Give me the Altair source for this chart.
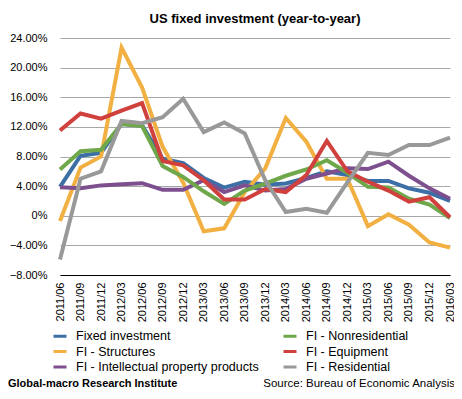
import altair as alt
import pandas as pd

quarters = ["2011/06", "2011/09", "2011/12", "2012/03", "2012/06", "2012/09", "2012/12",
            "2013/03", "2013/06", "2013/09", "2013/12", "2014/03", "2014/06", "2014/09",
            "2014/12", "2015/03", "2015/06", "2015/09", "2015/12", "2016/03"]

fixed_investment = [3.9, 8.1, 8.5, 12.4, 12.2, 7.7, 7.1, 5.1, 3.8, 4.6, 4.2, 4.35, 5.1, 6.0,
                    5.5, 4.7, 4.7, 3.7, 3.1, 2.0]
structures = [-0.7, 6.5, 8.0, 22.7, 17.3, 9.3, 4.5, -2.1, -1.7, 3.2, 6.4, 13.2, 10.0, 5.0,
              5.0, -1.4, 0.2, -1.2, -3.6, -4.3]
ipp = [3.85, 3.7, 4.1, 4.25, 4.4, 3.5, 3.5, 4.8, 3.2, 4.1, 3.4, 3.6, 5.0, 5.7,
       6.4, 6.3, 7.3, 5.4, 3.7, 2.3]
nonresidential = [6.25, 8.7, 8.9, 12.4, 12.1, 6.7, 5.25, 3.3, 1.6, 3.4, 4.35, 5.4, 6.25, 7.5,
                  5.8, 3.9, 3.8, 2.3, 1.5, -0.3]
equipment = [11.5, 13.8, 13.1, 14.2, 15.2, 7.4, 6.8, 4.8, 2.2, 2.2, 3.6, 3.2, 5.5, 10.1,
             6.0, 4.6, 3.4, 1.9, 2.5, -0.2]
residential = [-5.9, 5.0, 6.0, 12.8, 12.5, 13.3, 15.8, 11.3, 12.6, 11.1, 4.8, 0.5, 0.95, 0.4,
               4.5, 8.5, 8.2, 9.55, 9.55, 10.55]

# legend fills column by column: left column first, then right column
series_names = ["Fixed investment", "FI - Structures", "FI - Intellectual property products",
                "FI - Nonresidential", "FI - Equipment", "FI - Residential"]
series_values = [fixed_investment, structures, ipp, nonresidential, equipment, residential]
series_colors = ["#3b6fa6", "#f2b042", "#7e4f8e", "#6fa84a", "#d0413e", "#999999"]
y_ticks = [-8, -4, 0, 4, 8, 12, 16, 20, 24]

rows = []
for name, vals in zip(series_names, series_values):
    for q, v in zip(quarters, vals):
        rows.append({"quarter": q, "value": v, "series": name})
df = pd.DataFrame(rows)

FONT = "Liberation Sans"

lines = alt.Chart(df).mark_line(strokeWidth=4).encode(
    x=alt.X("quarter:N", sort=quarters, title=None,
            scale=alt.Scale(type="point", padding=0),
            axis=alt.Axis(labelAngle=-90, labelFontSize=11, labelColor="#000000",
                          labelPadding=7, ticks=False, domainColor="#000000",
                          domainWidth=1.2, grid=False, labelFont=FONT)),
    y=alt.Y("value:Q", title=None,
            scale=alt.Scale(domain=[-8, 24], nice=False, zero=False),
            axis=alt.Axis(values=y_ticks, domain=False, ticks=False, labelPadding=13,
                          labelFontSize=11, labelColor="#000000", labelFont=FONT,
                          gridColor="#a8a8a8", gridWidth=1,
                          labelExpr="datum.value == 0 ? '0%' : format(datum.value, '.2f') + '%'")),
    color=alt.Color("series:N", sort=series_names,
                    scale=alt.Scale(domain=series_names, range=series_colors),
                    legend=alt.Legend(title=None, orient="none", legendX=-8, legendY=290,
                                      columns=2, columnPadding=18, rowPadding=0.5,
                                      symbolType="stroke", symbolSize=169,
                                      symbolStrokeWidth=3, labelFontSize=12.5,
                                      labelFont=FONT, labelColor="#000000",
                                      labelOffset=8, labelLimit=320)),
)

left_note = alt.Chart(pd.DataFrame({"t": ["Global-macro Research Institute"]})).mark_text(
    align="left", baseline="middle", fontSize=11, fontWeight="bold", font=FONT, color="#000000"
).encode(text="t:N", x=alt.value(-52), y=alt.value(346))

right_note = alt.Chart(pd.DataFrame({"t": ["Source: Bureau of Economic Analysis"]})).mark_text(
    align="right", baseline="middle", fontSize=11.5, font=FONT, color="#000000"
).encode(text="t:N", x=alt.value(395), y=alt.value(346))

chart = alt.layer(lines, left_note, right_note).properties(
    width=390, height=237,
    title=alt.Title("US fixed investment (year-to-year)", fontSize=13, fontWeight="bold",
                    font=FONT, color="#000000", anchor="middle", offset=6),
    autosize=alt.AutoSizeParams(type="none"),
    padding={"left": 52, "top": 30, "right": 4, "bottom": 115},
).configure_view(stroke=None)

chart.save("out.html", embed_options={"renderer": "svg", "actions": False})
